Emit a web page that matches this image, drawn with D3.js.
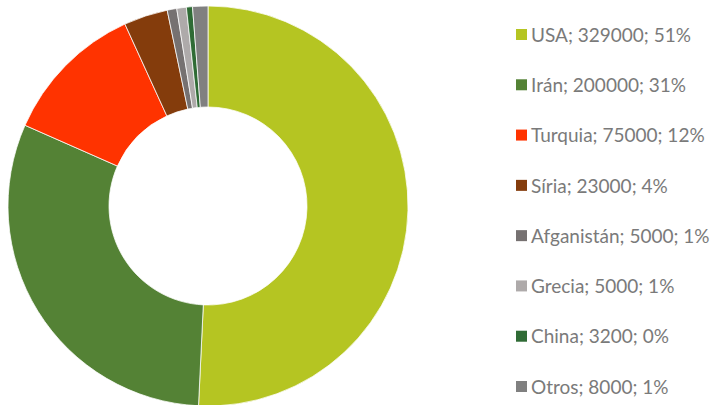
<!DOCTYPE html>
<html>
<head>
<meta charset="utf-8">
<script src="https://cdn.jsdelivr.net/npm/d3@7"></script>
<style>
  body { margin: 0; background: #fff; }
  svg { display: block; }
</style>
</head>
<body>
<div id="chart"></div>
<script>
// data
var countries = ['USA', 'Irán', 'Turquia', 'Síria', 'Afganistán', 'Grecia', 'China', 'Otros'];
var values = [329000, 200000, 75000, 23000, 5000, 5000, 3200, 8000];
var percents = ['51%', '31%', '12%', '4%', '1%', '1%', '0%', '1%'];
var colors = ['#b5c522', '#548235', '#ff3300', '#843c0c', '#767171', '#aeaaaa', '#2f6b35', '#808080'];

var w = 718, h = 405;
var cx = 208, cy = 206, outerR = 200, innerR = 99;

var svg = d3.select('#chart')
	.append('svg')
	.attr('width', w)
	.attr('height', h);

var items = countries.map(function(c, i) {
	return {t: c, v: values[i], p: percents[i], c: colors[i]};
});

var pie = d3.pie()
	.sort(null)
	.value(function(d) { return d.v; });

var arc = d3.arc()
	.innerRadius(innerR)
	.outerRadius(outerR);

var g = svg.append('g')
	.attr('transform', 'translate(' + cx + ',' + cy + ')');

g.selectAll('path')
	.data(pie(items))
	.enter()
	.append('path')
	.attr('d', arc)
	.attr('fill', function(d) { return d.data.c; })
	.attr('stroke', '#fff')
	.attr('stroke-width', 0.75);

// legend
var legendY = d3.scalePoint()
	.domain(countries)
	.range([35, 387]);

var legend = svg.append('g')
	.selectAll('g')
	.data(items)
	.enter()
	.append('g')
	.attr('transform', function(d) { return 'translate(516,' + legendY(d.t) + ')'; });

legend.append('rect')
	.attr('x', 0)
	.attr('y', -6)
	.attr('width', 11)
	.attr('height', 11)
	.attr('fill', function(d) { return d.c; });

legend.append('text')
	.attr('x', 15)
	.attr('y', 0)
	.attr('dy', '0.35em')
	.style('font-family', 'Lato, "Open Sans", sans-serif')
	.style('font-size', '19px')
	.style('fill', '#7a7a7a')
	.text(function(d) { return d.t + '; ' + d.v + '; ' + d.p; });
</script>
</body>
</html>
